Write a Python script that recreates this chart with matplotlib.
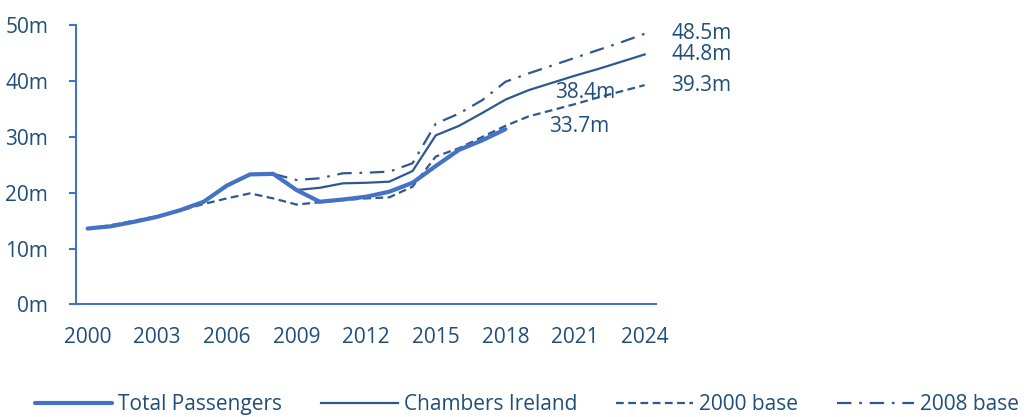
import matplotlib
matplotlib.use("Agg")
import matplotlib.pyplot as plt
import numpy as np

years = list(range(2000, 2025))
tick_years = [2000, 2003, 2006, 2009, 2012, 2015, 2018, 2021, 2024]

total_years = list(range(2000, 2019))
total_passengers = [13.6, 14.0, 14.8, 15.7, 16.9, 18.4, 21.3, 23.3, 23.4, 20.5,
                    18.4, 18.8, 19.3, 20.2, 21.8, 24.8, 27.7, 29.4, 31.4]

chambers_years = list(range(2008, 2025))
chambers = [23.4, 20.5, 20.9, 21.7, 21.8, 22.0, 23.9, 30.3, 32.0, 34.3, 36.7,
            38.4, 39.7, 41.0, 42.2, 43.5, 44.8]

base2000_years = list(range(2000, 2025))
base2000 = [13.6, 14.2, 15.0, 15.8, 16.8, 18.0, 19.0, 19.9, 19.0, 17.9,
            18.3, 18.7, 19.0, 19.2, 21.1, 26.5, 28.0, 30.0, 32.0,
            33.7, 34.8, 35.9, 37.1, 38.2, 39.3]

base2008_years = list(range(2008, 2025))
base2008 = [23.4, 22.3, 22.6, 23.5, 23.6, 23.8, 25.3, 32.4, 34.2, 36.6, 39.9,
            41.4, 42.8, 44.2, 45.6, 47.0, 48.5]

yticks = [0, 10, 20, 30, 40, 50]
ytick_labels = ["0m", "10m", "20m", "30m", "40m", "50m"]

end_labels = ["48.5m", "44.8m", "39.3m"]
mid_labels = ["38.4m", "33.7m"]

plt.rcParams['font.family'] = ['Open Sans', 'DejaVu Sans']

light = "#4472C4"
dark = "#2E5890"
txt = "#1F4E79"

fig = plt.figure(figsize=(10.27, 4.17), dpi=100)
ax = fig.add_axes([0.074, 0.270, 0.565, 0.669])

def idx(yrs):
    return [y - 2000 for y in yrs]

l1, = ax.plot(idx(total_years), total_passengers, color=light, lw=3.0,
              solid_capstyle='round', label="Total Passengers", zorder=4)
l2, = ax.plot(idx(chambers_years), chambers, color=dark, lw=1.6,
              label="Chambers Ireland", zorder=3)
l3, = ax.plot(idx(base2000_years), base2000, color=dark, lw=1.6,
              dashes=(3.5, 2.0), label="2000 base", zorder=3)
l4, = ax.plot(idx(base2008_years), base2008, color=dark, lw=1.6,
              dashes=(6.5, 3.5, 1.2, 3.5), label="2008 base", zorder=3)

ax.set_xlim(-0.5, 24.5)
ax.set_ylim(0, 50)
ax.set_yticks(yticks)
ax.set_yticklabels(ytick_labels)
ax.set_xticks([y - 2000 for y in tick_years])
ax.set_xticklabels([str(y) for y in tick_years])

for s in ["top", "right"]:
    ax.spines[s].set_visible(False)
for s in ["left", "bottom"]:
    ax.spines[s].set_color(light)
    ax.spines[s].set_linewidth(1.5)

ax.tick_params(axis='y', length=5, width=1.5, color=light, pad=15,
               labelsize=15, labelcolor=txt)
ax.tick_params(axis='x', length=0, pad=16, labelsize=15, labelcolor=txt)

# end labels at 2024
ends = [base2008[-1], chambers[-1], base2000[-1]]
for lab, v in zip(end_labels, ends):
    ax.annotate(lab, xy=(24, v), xytext=(19, 0), textcoords='offset points',
                ha='left', va='center', fontsize=15, color=txt, annotation_clip=False)

ax.annotate(mid_labels[0], xy=(19, chambers[11]), xytext=(19, -1.5),
            textcoords='offset points', ha='left', va='center', fontsize=15, color=txt)
ax.annotate(mid_labels[1], xy=(19, base2000[19]), xytext=(15, -7),
            textcoords='offset points', ha='left', va='center', fontsize=15, color=txt)

fig.legend(handles=[l1, l2, l3, l4], loc='center', ncol=4, frameon=False,
           bbox_to_anchor=(0.513, 0.029), fontsize=15, labelcolor=txt,
           handlelength=3.7, handletextpad=0.3, columnspacing=1.85,
           borderpad=0, borderaxespad=0)

fig.savefig("out.png", dpi=100)
